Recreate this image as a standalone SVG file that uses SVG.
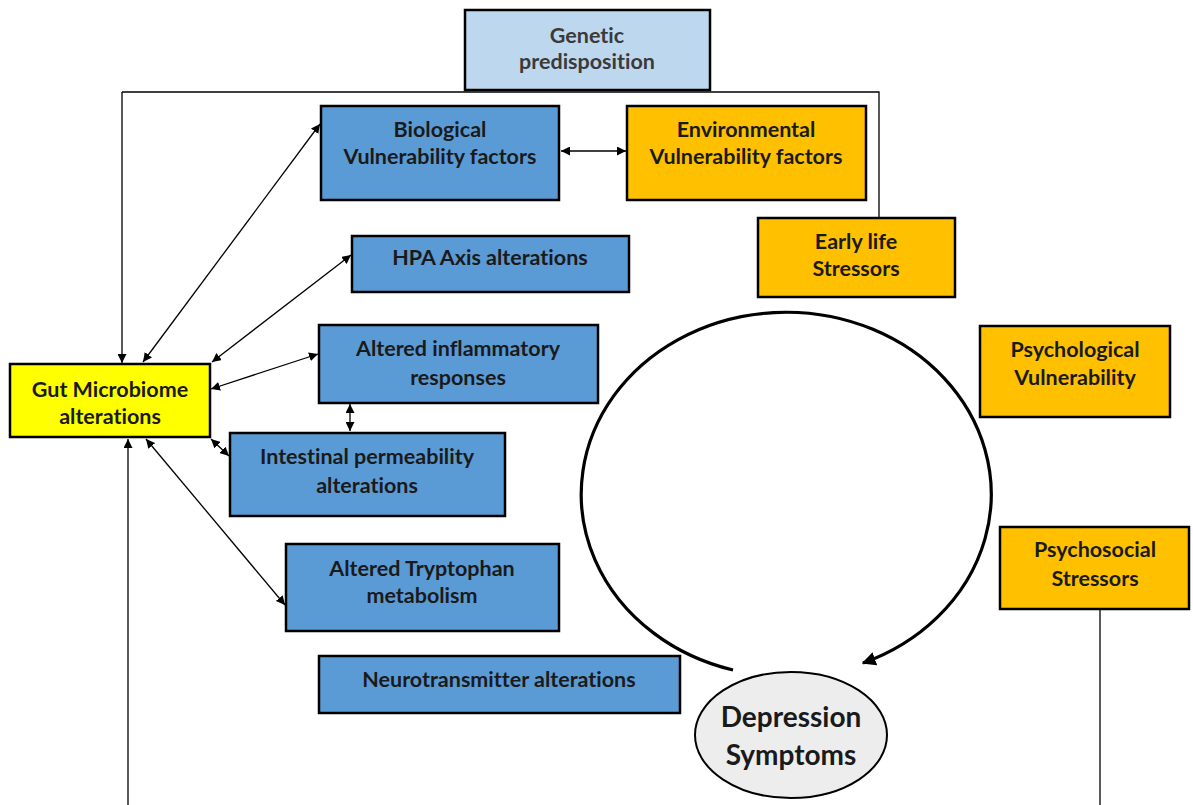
<svg xmlns="http://www.w3.org/2000/svg" width="1193" height="805" viewBox="0 0 1193 805">
<style>
.box{stroke:#000;stroke-width:2.5}
.blue{fill:#5B9BD5}
.orange{fill:#FFC000}
.t{font-family:Lato,"Open Sans",sans-serif;font-weight:bold;font-size:21.5px;fill:#1a1a1a;text-anchor:middle;font-variant-ligatures:none}
.ln{fill:none;stroke:#000;stroke-width:1.3}
</style>
<defs>
<marker id="ah" viewBox="0 0 10 10" refX="10" refY="5" markerWidth="9" markerHeight="9" markerUnits="userSpaceOnUse" orient="auto-start-reverse">
<path d="M0,0 L10,5 L0,10 Z" fill="#000"/>
</marker>
<marker id="ahb" viewBox="0 0 10 10" refX="9" refY="5" markerWidth="14" markerHeight="14" markerUnits="userSpaceOnUse" orient="auto">
<path d="M0,0 L10,5 L0,10 Z" fill="#000"/>
</marker>
</defs>
<rect width="1193" height="805" fill="#fff"/>
<g id="connectors">
<polyline class="ln" points="122,92 879,92 879,217"/>
<line class="ln" x1="122" y1="92" x2="122" y2="363" marker-end="url(#ah)"/>
<line class="ln" x1="128" y1="805" x2="128" y2="439" marker-end="url(#ah)"/>
<line class="ln" x1="1100" y1="609" x2="1100" y2="805"/>
<line class="ln" x1="143" y1="362" x2="320" y2="124" marker-start="url(#ah)" marker-end="url(#ah)"/>
<line class="ln" x1="212" y1="362" x2="351" y2="255" marker-start="url(#ah)" marker-end="url(#ah)"/>
<line class="ln" x1="211" y1="389" x2="318" y2="354" marker-start="url(#ah)" marker-end="url(#ah)"/>
<line class="ln" x1="350" y1="404" x2="350" y2="431" marker-start="url(#ah)" marker-end="url(#ah)"/>
<line class="ln" x1="211" y1="439" x2="229" y2="456" marker-start="url(#ah)" marker-end="url(#ah)"/>
<line class="ln" x1="146" y1="439" x2="285" y2="605" marker-start="url(#ah)" marker-end="url(#ah)"/>
<line class="ln" x1="561" y1="151" x2="626" y2="151" marker-start="url(#ah)" marker-end="url(#ah)"/>
<path d="M 733 670 A 205 182 0 1 1 863 663" fill="none" stroke="#000" stroke-width="3.2" marker-end="url(#ahb)"/>
</g>
<g id="genetic">
<rect class="box" x="465" y="10" width="245" height="80" fill="#BDD7EE"/>
<text class="t" x="587" y="43" style="fill:#3a3a3a">Genetic</text>
<text class="t" x="587" y="69" style="fill:#3a3a3a">predisposition</text>
</g>
<g id="biological">
<rect class="box blue" x="321" y="106" width="238" height="94"/>
<text class="t" x="440" y="137">Biological</text>
<text class="t" x="440" y="164">Vulnerability factors</text>
</g>
<g id="environmental">
<rect class="box orange" x="627" y="106" width="239" height="94"/>
<text class="t" x="746" y="137">Environmental</text>
<text class="t" x="746" y="164">Vulnerability factors</text>
</g>
<g id="early-life">
<rect class="box orange" x="758" y="218" width="197" height="79"/>
<text class="t" x="856" y="249">Early life</text>
<text class="t" x="856" y="276">Stressors</text>
</g>
<g id="hpa">
<rect class="box blue" x="352" y="236" width="277" height="56"/>
<text class="t" x="490" y="265">HPA Axis alterations</text>
</g>
<g id="inflammatory">
<rect class="box blue" x="319" y="325" width="279" height="78"/>
<text class="t" x="458" y="356">Altered inflammatory</text>
<text class="t" x="458" y="385">responses</text>
</g>
<g id="gut">
<rect class="box" x="10" y="364" width="200" height="73" fill="#FFFF00"/>
<text class="t" x="110" y="397">Gut Microbiome</text>
<text class="t" x="110" y="424">alterations</text>
</g>
<g id="intestinal">
<rect class="box blue" x="230" y="433" width="275" height="83"/>
<text class="t" x="367" y="464">Intestinal permeability</text>
<text class="t" x="367" y="493">alterations</text>
</g>
<g id="tryptophan">
<rect class="box blue" x="286" y="544" width="273" height="87"/>
<text class="t" x="422" y="576">Altered Tryptophan</text>
<text class="t" x="422" y="603">metabolism</text>
</g>
<g id="neurotransmitter">
<rect class="box blue" x="319" y="656" width="361" height="57"/>
<text class="t" x="499" y="687">Neurotransmitter alterations</text>
</g>
<g id="psychological">
<rect class="box orange" x="980" y="326" width="190" height="91"/>
<text class="t" x="1075" y="357">Psychological</text>
<text class="t" x="1075" y="385">Vulnerability</text>
</g>
<g id="psychosocial">
<rect class="box orange" x="1000" y="527" width="189" height="82"/>
<text class="t" x="1095" y="557">Psychosocial</text>
<text class="t" x="1095" y="586">Stressors</text>
</g>
<g id="depression">
<ellipse cx="791" cy="735" rx="96" ry="63" fill="#EDEDED" stroke="#000" stroke-width="2"/>
<text class="t" x="791" y="727" style="font-size:28px">Depression</text>
<text class="t" x="791" y="765" style="font-size:28px">Symptoms</text>
</g>
</svg>
